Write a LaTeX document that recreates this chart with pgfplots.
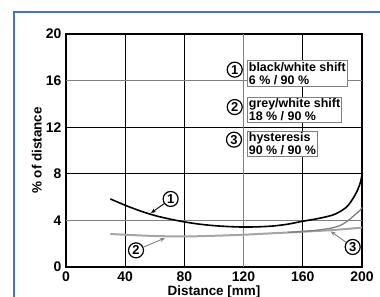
\documentclass[border=0pt]{standalone}
\usepackage{fontspec}
\setmainfont{Liberation Sans}
\usepackage{pgfplots}
\pgfplotsset{compat=1.18}
\usetikzlibrary{arrows.meta}
\definecolor{framblue}{RGB}{68,114,190}
\definecolor{lgrey}{RGB}{165,165,165}
\definecolor{mgrey}{RGB}{128,128,128}
\definecolor{gridgrey}{RGB}{128,128,128}
\begin{document}
\begin{tikzpicture}
\useasboundingbox (0bp,0bp) rectangle (380bp,297bp);
\draw[framblue, line width=1.5bp] (14bp,-2bp) -- (14bp,285bp) -- (382bp,285bp);
\begin{axis}[
  at={(66bp,30bp)}, anchor=south west,
  scale only axis, width=296bp, height=233bp,
  xmin=0, xmax=200, ymin=0, ymax=20,
  xtick={0,40,80,160,200}, ytick={0,8,12,20},
  extra x ticks={120}, extra y ticks={4,16},
  extra x tick style={grid style={gridgrey, line width=1bp}},
  extra y tick style={grid style={gridgrey, line width=1bp}},
  grid=major,
  grid style={black, line width=0.9bp},
  major tick length=0pt,
  axis line style={black, line width=1.1bp},
  /pgf/number format/assume math mode=true,
  ticklabel style={font=\bfseries\fontsize{14}{14}\selectfont},
  xticklabel style={inner sep=0pt, yshift=-4.5bp},
  yticklabel style={inner sep=0pt, xshift=-4.5bp},
  xlabel={Distance [mm]},
  ylabel={\% of distance},
  label style={font=\bfseries\fontsize{13.5}{13.5}\selectfont, inner sep=0pt},
  xlabel style={at={(axis description cs:0.5,-0.078)}, anchor=north},
  ylabel style={at={(axis description cs:-0.081,0.5)}, anchor=south, rotate=0},
  clip=false,
]
% curve 2 (light grey)
\addplot[lgrey, line width=2bp, smooth] coordinates {
(30,2.83) (40,2.77) (60,2.66) (80,2.62) (100,2.68) (120,2.77) (140,2.9) (160,3.03) (180,3.17) (200,3.38)};
% curve 3 (mid grey)
\addplot[mgrey, line width=1.3bp, smooth] coordinates {
(150,2.97) (165,3.1) (175,3.25) (180,3.36) (185,3.55) (190,3.92) (194,4.35) (198.5,4.85) (200,5.1)};
% curve 1 (black)
\addplot[black, line width=1.6bp, smooth] coordinates {
(30,5.84) (40,5.30) (50,4.82) (60,4.42) (70,4.12) (80,3.87) (90,3.68) (100,3.55) (110,3.47) (120,3.43) (130,3.45) (140,3.52) (150,3.68) (160,3.93) (170,4.15) (180,4.45) (185,4.75) (190,5.2) (194,5.9) (197,6.6) (199,7.3) (200,7.9)};

\tikzset{circ/.style={circle, draw=black, line width=1.2bp, fill=white, inner sep=0pt, minimum size=15bp, font=\bfseries\fontsize{13}{13}\selectfont},
  lbox/.style={draw=gray, line width=0.8bp, fill=white, anchor=north west, align=left, inner xsep=1.5bp, inner ysep=1.5bp, font=\bfseries\fontsize{12.5}{13}\selectfont}}
\node[circ] (c1) at (axis cs:70.7,5.84) {1};
\draw[black, line width=0.9bp, -{Stealth[length=5bp,width=4bp]}] (c1) -- (axis cs:57.4,4.63);
\node[circ] (c2) at (axis cs:47.3,1.43) {2};
\draw[mgrey, line width=0.9bp, -{Stealth[length=5bp,width=4bp]}] (c2) -- (axis cs:66.9,2.49);
\node[circ] (c3) at (axis cs:193.7,1.72) {3};
\draw[mgrey, line width=0.9bp, -{Stealth[length=5bp,width=4bp]}] (c3) -- (axis cs:178.8,3.06);

\node[circ] at (axis cs:114,16.94) {1};
\node[lbox] at (axis cs:122.3,17.73) {black/white shift\\6 \% / 90 \%};
\node[circ] at (axis cs:114,13.73) {2};
\node[lbox] at (axis cs:122.3,14.59) {grey/white shift\\18 \% / 90 \%};
\node[circ] at (axis cs:113.5,10.93) {3};
\node[lbox] at (axis cs:122.3,11.70) {hysteresis\\90 \% / 90 \%};
\end{axis}
\end{tikzpicture}
\end{document}
